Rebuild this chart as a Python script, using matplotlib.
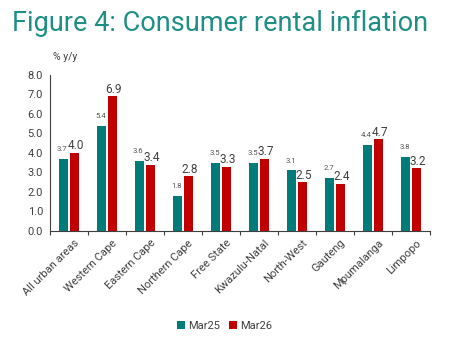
import matplotlib
matplotlib.use("Agg")
import matplotlib.pyplot as plt
import matplotlib.transforms as mtransforms
import numpy as np

categories = ["All urban areas", "Western Cape", "Eastern Cape", "Northern Cape",
              "Free State", "Kwazulu-Natal", "North-West", "Gauteng",
              "Mpumalanga", "Limpopo"]
mar25 = [3.7, 5.4, 3.6, 1.8, 3.5, 3.5, 3.1, 2.7, 4.4, 3.8]
mar26 = [4.0, 6.9, 3.4, 2.8, 3.3, 3.7, 2.5, 2.4, 4.7, 3.2]
yticks = [0.0, 1.0, 2.0, 3.0, 4.0, 5.0, 6.0, 7.0, 8.0]

teal = "#017b7a"
red = "#c00000"
txt = "#404040"

plt.rcParams['font.family'] = ['Roboto', 'DejaVu Sans']

fig = plt.figure(figsize=(4.5, 3.42), dpi=100)
ax = fig.add_axes([0.111, 0.325, 0.845, 0.456])

x = np.arange(len(categories))
w = 0.24
off = 0.145
b1 = ax.bar(x - off, mar25, w, color=teal, label="Mar25")
b2 = ax.bar(x + off, mar26, w, color=red, label="Mar26")

for xi, v in zip(x, mar25):
    ax.text(xi - off - 0.03, v + 0.35, f"{v:.1f}", ha="center", va="bottom", fontsize=5.5, color="#555555")
for xi, v in zip(x, mar26):
    ax.text(xi + off + 0.03, v + 0.03, f"{v:.1f}", ha="center", va="bottom", fontsize=8.5, color=txt)

ax.set_xlim(-0.5, len(categories) - 0.5)
ax.set_ylim(0, 8)
ax.set_yticks(yticks)
ax.set_yticklabels([f"{t:.1f}" for t in yticks], fontsize=8, color=txt)
ax.tick_params(axis="y", length=0, pad=5)
ax.set_xticks(np.arange(len(categories) + 1) - 0.5)
ax.set_xticklabels([])
ax.tick_params(axis="x", which="major", direction="out", length=3, color=txt)
ax.set_xticks(x, minor=True)
ax.set_xticklabels(categories, minor=True, rotation=45, ha="right", rotation_mode="anchor",
                   fontsize=8, color=txt)
ax.tick_params(axis="x", which="minor", length=0, pad=5)
shift = mtransforms.ScaledTranslation(5 / 100, 0, fig.dpi_scale_trans)
for lab in ax.get_xticklabels(minor=True):
    lab.set_transform(lab.get_transform() + shift)

for s in ["top", "right"]:
    ax.spines[s].set_visible(False)
ax.spines["left"].set_color(txt)
ax.spines["bottom"].set_color(txt)
ax.spines["left"].set_linewidth(0.8)
ax.spines["bottom"].set_linewidth(0.8)

fig.text(0.026, 0.91, "Figure 4: Consumer rental inflation", fontsize=19.5, color="#1f8f85",
         ha="left", va="baseline")
fig.text(0.118, 0.818, "% y/y", fontsize=7.5, color=txt, ha="left", va="bottom")

fig.legend(handles=[b1, b2], labels=["Mar25", "Mar26"], loc="center", bbox_to_anchor=(0.5, 0.048),
           ncol=2, frameon=False, fontsize=8, handlelength=0.7, handleheight=0.7,
           handletextpad=0.3, columnspacing=0.8, labelcolor=txt)

fig.savefig("out.png", dpi=100)
